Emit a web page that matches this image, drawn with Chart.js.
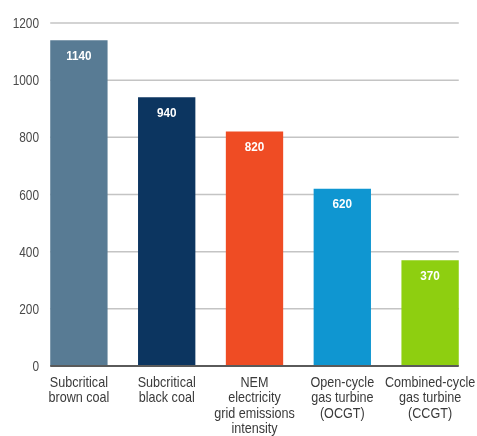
<!DOCTYPE html>
<html>
<head>
<meta charset="utf-8">
<script src="https://cdn.jsdelivr.net/npm/chart.js@4"></script>
<style>
html,body{margin:0;padding:0;background:#fff;}
canvas{display:block;}
</style>
</head>
<body>
<canvas id="c" width="477" height="436"></canvas>
<script>
const categories = [
  ["Subcritical", "brown coal"],
  ["Subcritical", "black coal"],
  ["NEM", "electricity", "grid emissions", "intensity"],
  ["Open-cycle", "gas turbine", "(OCGT)"],
  ["Combined-cycle", "gas turbine", "(CCGT)"]
];
const emissions = [1140, 940, 820, 620, 370];
const barColors = ["#587b94", "#0c3560", "#ef4c24", "#0f96d1", "#8ecf10"];
const yTicks = [0, 200, 400, 600, 800, 1000, 1200];

const FONT = '"Liberation Sans", Arial, sans-serif';

// draw horizontally condensed text
function condText(ctx, text, x, y, sx) {
  ctx.save();
  ctx.translate(x, y);
  ctx.scale(sx, 1);
  ctx.fillText(text, 0, 0);
  ctx.restore();
}

const gridPlugin = {
  id: 'customGrid',
  beforeDatasetsDraw(chart) {
    const ctx = chart.ctx;
    const meta = chart.getDatasetMeta(0);
    const first = meta.data[0], last = meta.data[meta.data.length - 1];
    const x0 = first.x - first.width / 2;
    const x1 = last.x + last.width / 2;
    const ys = chart.scales.y;
    ctx.save();
    ctx.strokeStyle = '#c4c4c4';
    ctx.lineWidth = 1.5;
    yTicks.forEach(v => {
      if (v === 0) return;
      const y = ys.getPixelForValue(v);
      ctx.beginPath();
      ctx.moveTo(x0, y);
      ctx.lineTo(x1, y);
      ctx.stroke();
    });
    // y tick labels
    ctx.fillStyle = '#4a4a4a';
    ctx.font = '15px ' + FONT;
    ctx.textAlign = 'right';
    ctx.textBaseline = 'middle';
    yTicks.forEach(v => {
      condText(ctx, String(v), 39, ys.getPixelForValue(v) + 1, 0.79);
    });
    ctx.restore();
  },
  afterDatasetsDraw(chart) {
    const ctx = chart.ctx;
    const meta = chart.getDatasetMeta(0);
    const ys = chart.scales.y;
    const xs = chart.scales.x;
    const y0 = ys.getPixelForValue(0);
    ctx.save();
    ctx.strokeStyle = '#5a5a5a';
    ctx.lineWidth = 2;
    ctx.beginPath();
    const first = meta.data[0], last = meta.data[meta.data.length - 1];
    ctx.moveTo(first.x - first.width / 2, y0);
    ctx.lineTo(last.x + last.width / 2, y0);
    ctx.stroke();
    // value labels
    ctx.fillStyle = '#ffffff';
    ctx.font = 'bold 13px ' + FONT;
    ctx.textAlign = 'center';
    ctx.textBaseline = 'middle';
    meta.data.forEach((bar, i) => {
      condText(ctx, String(emissions[i]), bar.x, bar.y + 16, 0.9);
    });
    // category labels
    ctx.fillStyle = '#3a3a3a';
    ctx.font = '15px ' + FONT;
    ctx.textAlign = 'center';
    ctx.textBaseline = 'alphabetic';
    categories.forEach((lines, i) => {
      const x = xs.getPixelForValue(i);
      lines.forEach((t, j) => {
        condText(ctx, t, x, y0 + 21 + j * 15.3, 0.84);
      });
    });
    ctx.restore();
  }
};

new Chart(document.getElementById('c'), {
  type: 'bar',
  data: {
    labels: categories,
    datasets: [{
      data: emissions,
      backgroundColor: barColors,
      borderWidth: 0,
      barPercentage: 0.653,
      categoryPercentage: 1.0
    }]
  },
  options: {
    responsive: false,
    animation: false,
    devicePixelRatio: 1,
    layout: { padding: { top: 23, right: 3, left: 0, bottom: 0 } },
    plugins: { legend: { display: false }, tooltip: { enabled: false } },
    scales: {
      x: {
        offset: true,
        grid: { display: false, drawTicks: false },
        border: { display: false },
        ticks: { display: false },
        afterFit(scale) { scale.height = 70; scale.paddingLeft = 0; scale.paddingRight = 0; }
      },
      y: {
        min: 0,
        max: 1200,
        afterBuildTicks(scale) { scale.ticks = yTicks.map(v => ({ value: v })); },
        grid: { display: false, drawTicks: false },
        border: { display: false },
        ticks: { display: false },
        afterFit(scale) { scale.width = 35; scale.paddingTop = 0; scale.paddingBottom = 0; }
      }
    }
  },
  plugins: [gridPlugin]
});
</script>
</body>
</html>
